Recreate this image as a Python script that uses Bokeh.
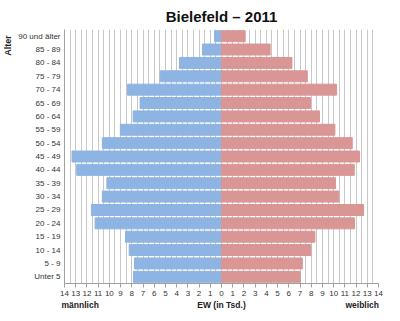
from bokeh.plotting import figure
from bokeh.models import (FixedTicker, CustomJSTickFormatter, ColumnDataSource,
                          LinearAxis, Range1d)
from bokeh.embed import file_html
from bokeh.resources import INLINE

age_groups = ["Unter 5", "5 - 9", "10 - 14", "15 - 19", "20 - 24", "25 - 29", "30 - 34",
              "35 - 39", "40 - 44", "45 - 49", "50 - 54", "55 - 59", "60 - 64", "65 - 69",
              "70 - 74", "75 - 79", "80 - 84", "85 - 89", "90 und älter"]
maennlich = [7.85, 7.76, 8.23, 8.56, 11.27, 11.6, 10.62, 10.22, 12.91, 13.33, 10.62,
             9.02, 7.88, 7.26, 8.39, 5.47, 3.75, 1.7, 0.62]
weiblich = [7.02, 7.2, 7.97, 8.33, 11.86, 12.67, 10.47, 10.17, 11.84, 12.31, 11.66,
            10.11, 8.74, 7.94, 10.26, 7.65, 6.28, 4.34, 2.11]
x_ticks = list(range(-14, 15))
grid_ticks = [i / 2 for i in range(-28, 29)]
bottom_texts = ["männlich", "EW (in Tsd.)", "weiblich"]

idx = list(range(len(age_groups)))
src = ColumnDataSource(dict(pos=idx, m=[-v for v in maennlich], w=weiblich))

FONT = "Liberation Sans"
p = figure(width=400, height=321, output_backend="svg", toolbar_location=None,
           x_range=(-14, 14), y_range=Range1d(-0.5, len(age_groups) - 0.5),
           min_border_left=64, min_border_right=22, min_border_top=29, min_border_bottom=38,
           title="Bielefeld – 2011")
p.title.align = "center"
p.title.text_font = FONT
p.title.text_font_size = "15px"
p.title.text_font_style = "bold"
p.title.text_color = "#111111"
p.outline_line_color = None
p.background_fill_color = "white"

p.hbar(y="pos", left="m", right=0, height=0.82, source=src, color="#8DB4E2")
p.hbar(y="pos", left=0, right="w", height=0.82, source=src, color="#D99694")

p.xgrid.ticker = FixedTicker(ticks=grid_ticks)
p.xgrid.grid_line_color = "#C8C8C8"
p.xgrid.grid_line_width = 1
p.ygrid.grid_line_color = None

p.xaxis.ticker = FixedTicker(ticks=x_ticks)
p.xaxis.formatter = CustomJSTickFormatter(code="return Math.abs(tick).toString();")
p.xaxis.major_label_text_font = FONT
p.xaxis.major_label_text_font_size = "8px"
p.xaxis.major_label_text_color = "#333333"
p.xaxis.axis_line_color = "#A0A0A0"
p.xaxis.major_tick_line_color = "#A0A0A0"
p.xaxis.major_tick_out = 4
p.xaxis.major_tick_in = 0
p.xaxis.minor_tick_line_color = None
p.xaxis.major_label_standoff = 3

# second row below: "männlich", "EW (in Tsd.)", "weiblich"
label_axis = LinearAxis(ticker=FixedTicker(ticks=[-12.6, 0.0, 12.55]),
                        formatter=CustomJSTickFormatter(
                            args=dict(t=bottom_texts),
                            code="return tick < -1 ? t[0] : (tick > 1 ? t[2] : t[1]);"))
label_axis.axis_line_color = None
label_axis.major_tick_line_color = None
label_axis.minor_tick_line_color = None
label_axis.major_tick_out = 0
label_axis.major_tick_in = 0
label_axis.major_label_text_font = FONT
label_axis.major_label_text_font_size = "8.5px"
label_axis.major_label_text_font_style = "bold"
label_axis.major_label_text_color = "#222222"
label_axis.major_label_standoff = 1
p.add_layout(label_axis, "below")

p.yaxis.ticker = FixedTicker(ticks=idx)
p.yaxis.formatter = CustomJSTickFormatter(args=dict(labels=age_groups),
                                          code="return labels[Math.round(tick)];")
p.yaxis.major_label_text_font = FONT
p.yaxis.major_label_text_font_size = "8px"
p.yaxis.major_label_text_color = "#333333"
p.yaxis.axis_line_color = "#A0A0A0"
p.yaxis.major_tick_line_color = None
p.yaxis.minor_tick_line_color = None
p.yaxis.major_tick_out = 0
p.yaxis.major_tick_in = 0
p.yaxis.major_label_standoff = 4

alter_axis = LinearAxis(ticker=FixedTicker(ticks=[17.3]),
                        formatter=CustomJSTickFormatter(code="return 'Alter';"))
alter_axis.axis_line_color = None
alter_axis.major_tick_line_color = None
alter_axis.minor_tick_line_color = None
alter_axis.major_tick_out = 0
alter_axis.major_tick_in = 0
alter_axis.major_label_orientation = "vertical"
alter_axis.major_label_text_font = FONT
alter_axis.major_label_text_font_size = "9px"
alter_axis.major_label_text_font_style = "bold"
alter_axis.major_label_text_color = "#222222"
alter_axis.major_label_standoff = 2
p.add_layout(alter_axis, "left")

open("out.html", "w").write(file_html(p, INLINE))
